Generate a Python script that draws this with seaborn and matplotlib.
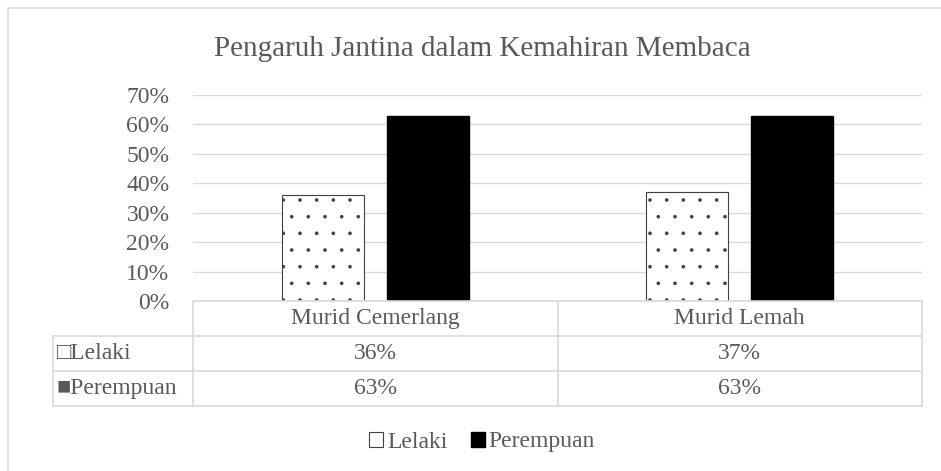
import matplotlib
matplotlib.use("Agg")
import matplotlib.pyplot as plt
import matplotlib.patches as mpatches
import seaborn as sns
import pandas as pd

categories = ["Murid Cemerlang", "Murid Lemah"]
series = ["Lelaki", "Perempuan"]
lelaki = [0.36, 0.37]
perempuan = [0.63, 0.63]
lelaki_labels = ["36%", "37%"]
perempuan_labels = ["63%", "63%"]
yticks = [0, 0.1, 0.2, 0.3, 0.4, 0.5, 0.6, 0.7]
ytick_labels = ["0%", "10%", "20%", "30%", "40%", "50%", "60%", "70%"]

df = pd.DataFrame({
    "kategori": categories * 2,
    "jantina": [series[0]] * 2 + [series[1]] * 2,
    "nilai": lelaki + perempuan,
})

sns.set_style("white")
plt.rcParams["font.family"] = ["Liberation Serif", "DejaVu Sans"]
plt.rcParams["hatch.linewidth"] = 0.2
plt.rcParams["hatch.color"] = "black"
txt = "#595959"
grid = "#d9d9d9"
fs = 17

W, H = 941, 471
fig = plt.figure(figsize=(W / 100, H / 100), dpi=100)
ax = fig.add_axes([193 / W, 1 - 301 / H, (922 - 193) / W, (301 - 95) / H])

sns.barplot(data=df, x="kategori", y="nilai", hue="jantina", order=categories,
            hue_order=series, palette=["white", "black"], width=0.576, gap=0.22,
            ax=ax, legend=False, saturation=1)
for bar in ax.containers[0]:
    bar.set_hatch(".")
    bar.set_edgecolor("#404040")
    bar.set_linewidth(0.8)
for bar in ax.containers[1]:
    bar.set_edgecolor("black")

ax.set_ylim(0, 0.7)
ax.set_xlim(-0.5, 1.5)
ax.autoscale(False)
ax.set_yticks(yticks)
ax.set_yticklabels(ytick_labels, fontsize=fs, color=txt)
ax.tick_params(axis="y", length=0, pad=17)
ax.set_xticks([])
ax.set_xlabel("")
ax.set_ylabel("")
ax.grid(axis="y", color=grid, lw=1)
ax.set_axisbelow(True)
for s in ax.spines.values():
    s.set_visible(False)

# data table under the axis
trans = ax.get_xaxis_transform()
ah = 301 - 95
def yax(py):
    return (301 - py) / ah
left, right = ax.get_xlim()
xw = (right - left) / (922 - 193)
lab_left = left - (193 - 53) * xw
mid = (left + right) / 2
lk = dict(transform=trans, clip_on=False, color=grid, lw=1.2)
ax.plot([left, right], [yax(301), yax(301)], **lk)
ax.plot([lab_left, right], [yax(336), yax(336)], **lk)
ax.plot([lab_left, right], [yax(371), yax(371)], **lk)
ax.plot([lab_left, right], [yax(406), yax(406)], **lk)
ax.plot([left, left], [yax(301), yax(406)], **lk)
ax.plot([mid, mid], [yax(301), yax(406)], **lk)
ax.plot([right, right], [yax(301), yax(406)], **lk)
ax.plot([lab_left, lab_left], [yax(336), yax(406)], **lk)
ax.set_xlim(left, right)

for i, c in enumerate(categories):
    ax.text(i, yax(318.5), c, transform=trans, ha="center", va="center",
            fontsize=fs, color=txt)
    ax.text(i, yax(353.5), lelaki_labels[i], transform=trans, ha="center",
            va="center", fontsize=fs, color=txt)
    ax.text(i, yax(388.5), perempuan_labels[i], transform=trans, ha="center",
            va="center", fontsize=fs, color=txt)
ax.text(lab_left + 4 * xw, yax(353.5), "\u25a1Lelaki", transform=trans,
        ha="left", va="center", fontsize=fs, color=txt)
ax.text(lab_left + 4 * xw, yax(388.5), "\u25a0Perempuan", transform=trans,
        ha="left", va="center", fontsize=fs, color=txt)

fig.text(482 / W, 1 - 49 / H, "Pengaruh Jantina dalam Kemahiran Membaca",
         ha="center", va="center", fontsize=21, color=txt)

handles = [mpatches.Patch(facecolor="white", edgecolor="#404040", lw=0.8, label=series[0]),
           mpatches.Patch(facecolor="black", edgecolor="black", label=series[1])]
fig.legend(handles=handles, loc="center", bbox_to_anchor=(482 / W, 1 - 442 / H),
           ncol=2, frameon=False, fontsize=fs, labelcolor=txt, handlelength=0.6,
           handleheight=0.6, handletextpad=0.15, columnspacing=1.0)

fig.add_artist(mpatches.Rectangle((7.5 / W, -0.1), 1.2, 1.1 - 7.5 / H,
                                  transform=fig.transFigure, fill=False,
                                  edgecolor=grid, lw=1.2))

fig.savefig("out.png", dpi=100)
